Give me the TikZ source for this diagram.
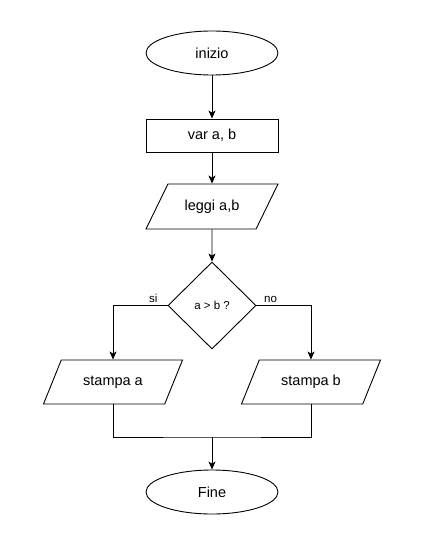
\documentclass[tikz,border=0pt]{standalone}
\usepackage{fontspec}
\setmainfont{Liberation Sans}
\usepackage{tikz}
\usetikzlibrary{arrows.meta,shapes.geometric,positioning}
\tikzstyle{arrow} = [line width=0.9pt,-{Stealth[length=8pt,width=7pt,inset=2pt]}]
\tikzstyle{line} = [line width=0.9pt]
\tikzstyle{terminal} = [ellipse, draw, line width=0.9pt, minimum width=132pt, minimum height=44pt, font=\fontsize{14.5}{17}\selectfont]
\tikzstyle{process} = [rectangle, draw, line width=0.9pt, minimum width=132pt, minimum height=33pt, font=\fontsize{14.5}{17}\selectfont]
\tikzstyle{io} = [trapezium, trapezium left angle=64, trapezium right angle=116, trapezium stretches body, draw, line width=0.9pt, text height=10.5pt, text depth=3pt, inner ysep=15.75pt, minimum width=132pt, font=\fontsize{14.5}{17}\selectfont]
\tikzstyle{decision} = [diamond, draw, line width=0.9pt, minimum width=88pt, minimum height=87pt, inner sep=1pt, font=\fontsize{11.5}{14}\selectfont]
\tikzstyle{lbl} = [font=\fontsize{11.5}{14}\selectfont, inner sep=2pt]

\begin{document}
\begin{tikzpicture}
\useasboundingbox (0pt,0pt) rectangle (426pt,-543pt);
% Start and input
\node (start) [terminal] at (212pt,-53pt) {inizio};
\node (vars) [process, below of=start, node distance=82.5pt] {var a, b};
\node (read) [io, below of=vars, node distance=71pt] {leggi a,b};
\node (test) [decision, below of=read, node distance=99pt] {a > b ?};

% Branches
\node (printa) [io, below of=test, node distance=76.5pt, xshift=-99pt, minimum width=139pt, inner ysep=15.25pt, trapezium left angle=68, trapezium right angle=112] {stampa a};
\node (printb) [io, below of=test, node distance=76.5pt, xshift=99pt, minimum width=139pt, inner ysep=15.25pt, trapezium left angle=68, trapezium right angle=112] {stampa b};
\node (stop) [terminal, below of=test, node distance=186.5pt] {Fine};
\coordinate (join) at (212pt,-437pt);

% Connections
\draw[arrow] (start) -- (vars);
\draw[arrow] (vars) -- (read);
\draw[arrow] (read) -- (test);
\draw[arrow] (test.west) -| node[lbl, pos=0.13, above] {si} (printa.north);
\draw[arrow] (test.east) -| node[lbl, pos=0.13, above] {no} (printb.north);
\draw[line] (printa.south) |- (join) -| (printb.south);
\draw[arrow] (join) -- (stop);
\end{tikzpicture}
\end{document}
